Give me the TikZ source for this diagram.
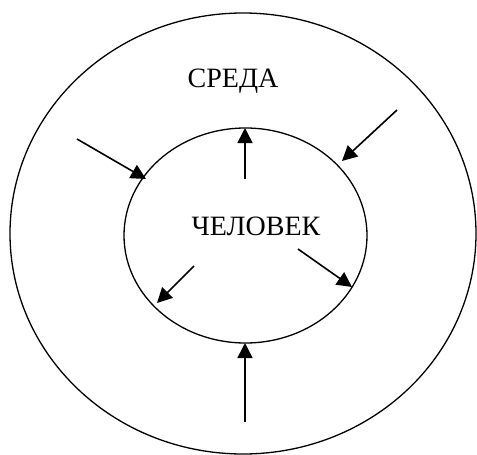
\documentclass[tikz,border=0pt]{standalone}
\usepackage{fontspec}
\setmainfont{Liberation Serif}
\usetikzlibrary{arrows.meta,shapes.geometric}
\begin{document}
\begin{tikzpicture}[x=1pt,y=-1pt,
  ring/.style={draw,line width=1.3pt,ellipse,inner sep=0pt},
  flow/.style={line width=1.6pt,-{Triangle[length=15pt,width=15pt]}},
  lbl/.style={font=\fontsize{28}{30}\selectfont,inner sep=0pt}]
\useasboundingbox (0,0) rectangle (477,455);
\node[ring,minimum width=466pt,minimum height=441pt] (outer) at (243,233.5) {};
\node[ring,minimum width=243pt,minimum height=215pt] (inner) at (245.5,235.5) {};
\node[lbl,anchor=base] (sreda) at (233,87) {СРЕДА};
\node[lbl,anchor=base] (chel) at (256,235) {ЧЕЛОВЕК};
\coordinate (t1) at (77,139);  \coordinate (h1) at (146,179);
\coordinate (t2) at (397,110); \coordinate (h2) at (342,161);
\coordinate (t3) at (245,179); \coordinate (h3) at (245,128);
\coordinate (t4) at (194,266); \coordinate (h4) at (157,303);
\coordinate (t5) at (298,249); \coordinate (h5) at (352,287);
\coordinate (t6) at (245,422); \coordinate (h6) at (245,343);
\draw[flow] (t1) -- (h1);
\draw[flow] (t2) -- (h2);
\draw[flow] (t3) -- (h3);
\draw[flow] (t4) -- (h4);
\draw[flow] (t5) -- (h5);
\draw[flow] (t6) -- (h6);
\end{tikzpicture}
\end{document}
